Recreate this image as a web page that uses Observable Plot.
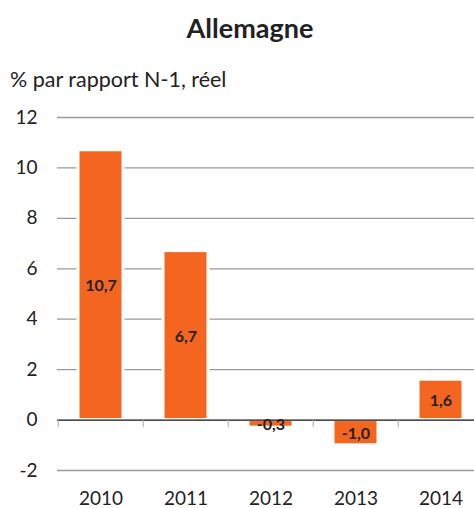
<!DOCTYPE html>
<html>
<head>
<meta charset="utf-8">
<script src="https://cdn.jsdelivr.net/npm/d3@7"></script>
<script src="https://cdn.jsdelivr.net/npm/@observablehq/plot@0.6"></script>
<style>
  body { margin: 0; background: #fff; font-family: Lato, "Open Sans", sans-serif; color: #222; }
  #wrap { width: 474px; height: 508px; position: relative; overflow: hidden; }
  #title { position: absolute; left: 26px; right: 0; top: 11px; text-align: center; font-weight: bold; font-size: 27px; }
  #subtitle { position: absolute; left: 10px; top: 66px; font-size: 21.5px; }
  #chart { position: absolute; left: 0; top: 100px; }
</style>
</head>
<body>
<div id="wrap">
  <div id="title">Allemagne</div>
  <div id="subtitle">% par rapport N-1, réel</div>
  <div id="chart"></div>
</div>
<script>
const years = ["2010", "2011", "2012", "2013", "2014"];
const values = [10.7, 6.7, -0.3, -1.0, 1.6];
const yTicks = [-2, 0, 2, 4, 6, 8, 10, 12];
const gridTicks = [-2, 2, 4, 6, 8, 10, 12];

const data = years.map((y, i) => ({year: y, value: values[i]}));
const fmt = v => v.toFixed(1).replace(".", ",");

const chart = Plot.plot({
  width: 474,
  height: 408,
  marginTop: 17,
  marginBottom: 38,
  marginLeft: 57,
  marginRight: 0,
  style: {fontFamily: "Lato, 'Open Sans', sans-serif", color: "#222", background: "#fff"},
  x: {domain: years, range: [57, 485], paddingInner: 0.47, paddingOuter: 0.235, label: null, axis: null},
  y: {domain: [-2, 12], label: null, axis: null},
  marks: [
    Plot.ruleY(gridTicks, {stroke: "#9a9a9a", strokeWidth: 1.3}),
    Plot.barY(data, {x: "year", y: "value", fill: "#f4661f", stroke: "#fff", strokeWidth: 3}),
    Plot.ruleY([0], {stroke: "#111", strokeWidth: 1.3}),
    Plot.ruleX(years, {x: d => d, dx: -42.8, y1: 0, y2: -0.3, stroke: "#aaa", strokeWidth: 1}),
    Plot.text(data, {x: "year", y: d => d.value / 2, text: d => fmt(d.value), fill: "#222",
      fontWeight: "bold", fontSize: 16, dy: 1}),
    Plot.axisY(yTicks, {tickSize: 0, tickPadding: 20, fontSize: 19, tickFormat: d => String(d), textAnchor: "end"}),
    Plot.axisX({tickSize: 0, tickPadding: 21, fontSize: 19})
  ]
});
document.getElementById("chart").appendChild(chart);
</script>
</body>
</html>
